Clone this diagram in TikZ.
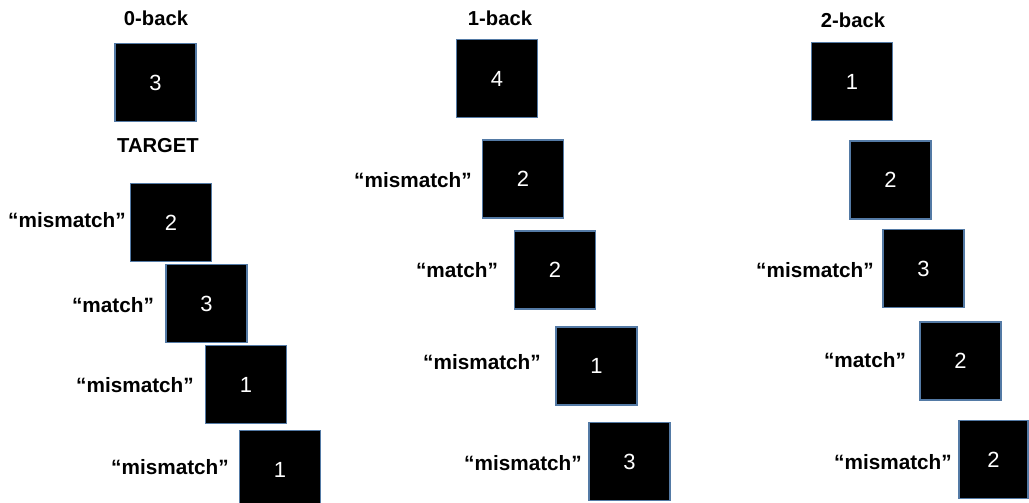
\documentclass[tikz,border=0pt]{standalone}
\usepackage{fontspec}
\setmainfont{Liberation Sans}
\usepackage{tikz}
\usetikzlibrary{positioning}
\definecolor{cardedge}{RGB}{84,122,165}

\begin{document}
\begin{tikzpicture}[x=0.02cm, y=-0.02cm,
  card/.style={rectangle, draw=cardedge, line width=0.6pt, fill=black,
    text=white, minimum width=1.62cm, minimum height=1.56cm, inner sep=0pt,
    font=\fontsize{12.5}{14}\selectfont},
  head/.style={font=\bfseries\fontsize{11.5}{14}\selectfont},
  cue/.style={font=\bfseries\fontsize{11.8}{14}\selectfont, inner sep=0pt},
]
\useasboundingbox (0,0) rectangle (1029,503);

%% ── Column 1: 0-back ──
\node[head] (zhead) at (156,18)  {0-back};
\node[card] (z1) at (155.5,82.5) {3};
\node[head] (ztarget) at (158,146) {TARGET};
\node[card] (z2) at (171,222.5)  {2};
\node[card] (z3) at (206.5,303.5) {3};
\node[card] (z4) at (246,384.5)  {1};
\node[card] (z5) at (280,469.5)  {1};
\node[cue] (zl2) at (67,220)  {“mismatch”};
\node[cue] (zl3) at (113,305) {“match”};
\node[cue] (zl4) at (135,385) {“mismatch”};
\node[cue] (zl5) at (170,467) {“mismatch”};

%% ── Column 2: 1-back ──
\node[head] (ohead) at (500,18) {1-back};
\node[card] (o1) at (497,78.5)   {4};
\node[card] (o2) at (523,179)    {2};
\node[card] (o3) at (555,270)    {2};
\node[card] (o4) at (596.5,366)  {1};
\node[card] (o5) at (629.5,461.5) {3};
\node[cue] (ol2) at (413,180) {“mismatch”};
\node[cue] (ol3) at (457,270) {“match”};
\node[cue] (ol4) at (482,362) {“mismatch”};
\node[cue] (ol5) at (523,463) {“mismatch”};

%% ── Column 3: 2-back ──
\node[head] (thead) at (853,20) {2-back};
\node[card] (t1) at (852,81.5)    {1};
\node[card] (t2) at (890.5,180)   {2};
\node[card] (t3) at (923.5,268.5) {3};
\node[card] (t4) at (960.5,361)   {2};
\node[card, minimum width=1.38cm] (t5) at (993.5,459.5) {2};
\node[cue] (tl3) at (815,270) {“mismatch”};
\node[cue] (tl4) at (865,360) {“match”};
\node[cue] (tl5) at (893,462) {“mismatch”};
\end{tikzpicture}
\end{document}
